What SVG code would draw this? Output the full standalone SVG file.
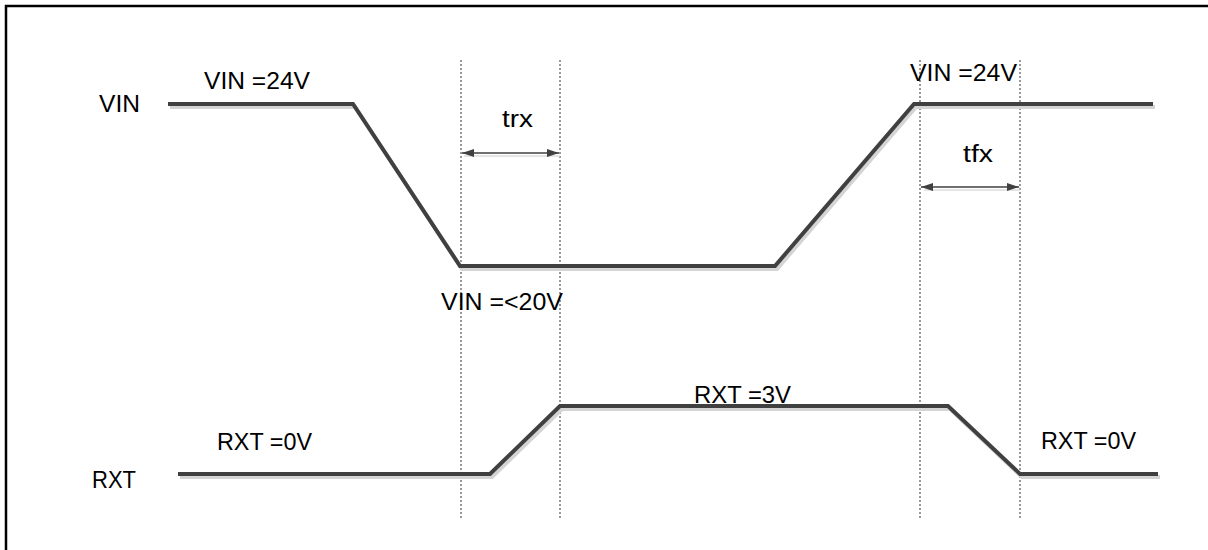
<svg xmlns="http://www.w3.org/2000/svg" width="1208" height="550" viewBox="0 0 1208 550">
  <style>
    .lbl { font-family: "Liberation Sans", Arial, sans-serif; font-size: 23px; fill: #000; }
    .sig { fill: none; stroke: #404040; stroke-width: 4; stroke-linejoin: miter; }
    .shadow { fill: none; stroke: #d4d4d4; stroke-width: 4; }
    .guide { stroke: #555; stroke-width: 1.2; stroke-dasharray: 2 2; fill: none; }
    .dim { stroke: #404040; stroke-width: 1.5; fill: none; }
    .dimshadow { stroke: #dcdcdc; stroke-width: 1.5; fill: none; }
  </style>
  <defs>
    <marker id="ah" viewBox="0 0 12 8" refX="12" refY="4" markerWidth="12" markerHeight="8" markerUnits="userSpaceOnUse" orient="auto-start-reverse">
      <path d="M0,0 L12,4 L0,8 Z" fill="#404040"/>
    </marker>
  </defs>
  <rect x="0" y="0" width="1208" height="550" fill="#fff"/>
  <rect id="frame" x="6" y="6" width="1220" height="560" fill="none" stroke="#000" stroke-width="2.5"/>

  <g id="guides">
    <line class="guide" x1="461" y1="60" x2="461" y2="519"/>
    <line class="guide" x1="560" y1="60" x2="560" y2="519"/>
    <line class="guide" x1="920" y1="60" x2="920" y2="519"/>
    <line class="guide" x1="1020" y1="60" x2="1020" y2="519"/>
  </g>

  <g id="connectors">
    <polyline class="shadow" points="170,107 355,107 462,269 777,269 916,107 1155,107"/>
    <polyline class="shadow" points="180,477 492,477 562,409 950,409 1022,477 1160,477"/>
    <line class="dimshadow" x1="464" y1="156" x2="560" y2="156"/>
    <line class="dimshadow" x1="924" y1="190" x2="1020" y2="190"/>
    <line class="dim" x1="462" y1="153" x2="559" y2="153" marker-start="url(#ah)" marker-end="url(#ah)"/>
    <line class="dim" x1="921" y1="187" x2="1019" y2="187" marker-start="url(#ah)" marker-end="url(#ah)"/>
  </g>

  <g id="vin-signal">
    <polyline class="sig" points="168,104 353,104 460,266 775,266 914,104 1153,104"/>
  </g>
  <g id="rxt-signal">
    <polyline class="sig" points="178,474 490,474 560,406 948,406 1020,474 1158,474"/>
  </g>

  <g id="labels">
    <text class="lbl" x="99" y="112" textLength="41" lengthAdjust="spacingAndGlyphs">VIN</text>
    <text class="lbl" x="92" y="488" textLength="44" lengthAdjust="spacingAndGlyphs">RXT</text>
    <text class="lbl" x="204" y="89" textLength="106" lengthAdjust="spacingAndGlyphs">VIN =24V</text>
    <text class="lbl" x="910" y="81" textLength="107" lengthAdjust="spacingAndGlyphs">VIN =24V</text>
    <text class="lbl" x="502" y="127" textLength="31" lengthAdjust="spacingAndGlyphs">trx</text>
    <text class="lbl" x="963" y="162" textLength="30" lengthAdjust="spacingAndGlyphs">tfx</text>
    <text class="lbl" x="441" y="310" textLength="122" lengthAdjust="spacingAndGlyphs">VIN =&lt;20V</text>
    <text class="lbl" x="694" y="403" textLength="97" lengthAdjust="spacingAndGlyphs">RXT =3V</text>
    <text class="lbl" x="217" y="450" textLength="95" lengthAdjust="spacingAndGlyphs">RXT =0V</text>
    <text class="lbl" x="1041" y="449" textLength="95" lengthAdjust="spacingAndGlyphs">RXT =0V</text>
  </g>
</svg>
